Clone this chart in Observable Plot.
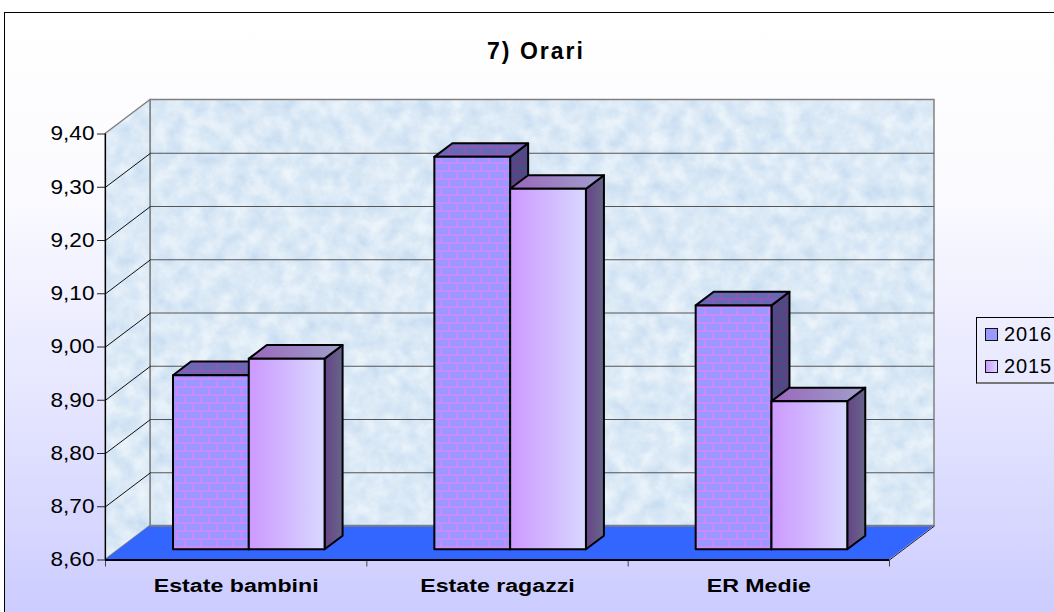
<!DOCTYPE html>
<html lang="it">
<head>
<meta charset="utf-8">
<script src="https://cdn.jsdelivr.net/npm/d3@7"></script>
<script src="https://cdn.jsdelivr.net/npm/@observablehq/plot@0.6"></script>
<style>
html,body{margin:0;padding:0;background:#fff;overflow:hidden}
#page{position:relative;width:1054px;height:612px;overflow:hidden;font-family:"Liberation Sans",Arial,sans-serif;color:#000}
#frame{position:absolute;left:4px;top:12px;width:1100px;height:700px;border:1px solid #000;box-sizing:border-box;
 background:linear-gradient(180deg,#ffffff 0%,#fbfbff 25%,#e6e6ff 55%,#ccccff 86%,#ccccff 100%)}
#title{position:absolute;left:336px;width:400px;top:37px;text-align:center;font-weight:bold;font-size:23px;letter-spacing:2px;line-height:28px}
#chart{position:absolute;left:0;top:0}
#chart svg{display:block;background:transparent}
#legend{position:absolute;left:976px;top:317px;width:120px;height:67px;border:1px solid #000;border-bottom:2px solid #777;box-sizing:border-box;font-size:20px;letter-spacing:.9px}
.item{position:absolute;left:8px;display:flex;align-items:center;line-height:22px}
.sw{display:inline-block;width:11px;height:11px;border:1.5px solid #111;margin-right:6px;box-sizing:content-box}
</style>
</head>
<body>
<div id="page">
  <div id="frame"></div>
  <div id="chart"></div>
  <div id="title">7) Orari</div>
  <div id="legend">
    <div class="item" style="top:5px"><span class="sw" style="background:#9999ff"></span><span>2016</span></div>
    <div class="item" style="top:37px"><span class="sw" style="background:linear-gradient(90deg,#cc99ff,#d9d9ff)"></span><span>2015</span></div>
  </div>
</div>
<script>
// ---- data ----
const categories = ["Estate bambini", "Estate ragazzi", "ER Medie"];
const values2016 = [8.927, 9.337, 9.058];
const values2015 = [8.958, 9.277, 8.878];
const yTicks = [8.6, 8.7, 8.8, 8.9, 9.0, 9.1, 9.2, 9.3, 9.4];

// ---- pseudo-3D projection, in data units ----
const yMin = 8.6, yMax = 9.4, nCat = categories.length;
const depthX = 45 / 261.33, depthY = 34 / 532.5;   // shift of the back plane
const d0 = 0.3, d1 = 0.7;                          // bar depth within the box
const gap = 0.2086, barW = 0.29;

const quad = (a, b, c, d) => [
  {x1: a[0], y1: a[1], x2: d[0], y2: d[1]},
  {x1: b[0], y1: b[1], x2: c[0], y2: c[1]}
];
const areaOf = (pts, opts) => Plot.area(pts, {x1: "x1", y1: "y1", x2: "x2", y2: "y2", ...opts});

function barMarks(values, slot, front, top, side) {
  const lay = values.map((v, i) => {
    const x0 = i + gap + slot * barW + d0 * depthX;
    return {x0, x1: x0 + barW, v};
  });
  const ox = (d1 - d0) * depthX, b = yMin + d0 * depthY, oy = (d1 - d0) * depthY;
  const line = {stroke: "#000", strokeWidth: 2, strokeLinejoin: "round"};
  const marks = [];
  for (const p of lay) {
    const t = p.v + d0 * depthY;
    marks.push(areaOf(quad([p.x1, b], [p.x1 + ox, b + oy], [p.x1 + ox, t + oy], [p.x1, t]), {fill: side, ...line}));
    marks.push(areaOf(quad([p.x0, t], [p.x0 + ox, t + oy], [p.x1 + ox, t + oy], [p.x1, t]), {fill: top, ...line}));
    marks.push(Plot.rect([p], {x1: "x0", x2: "x1", y1: () => b, y2: () => t, fill: front, ...line}));
  }
  return marks;
}

const defs = () => {
  const d = d3.create("svg:defs");
  d.html(`
    <filter id="marbleF" x="0" y="0" width="100%" height="100%" color-interpolation-filters="sRGB">
      <feTurbulence type="fractalNoise" baseFrequency="0.06" numOctaves="5" seed="7"/>
      <feColorMatrix type="matrix" values="0.2 0 0 0 0.76  0.13 0 0 0 0.85  0.05 0 0 0 0.94  0 0 0 0 1"/>
    </filter>
    <pattern id="marble" patternUnits="userSpaceOnUse" width="1054" height="612">
      <rect width="1054" height="612" filter="url(#marbleF)"/>
    </pattern>
    <pattern id="brick" patternUnits="userSpaceOnUse" width="16" height="16" x="1" y="3">
      <rect width="16" height="16" fill="#cc88ff"/>
      <rect x="1" y="1" width="14" height="6" fill="#9999ff"/>
      <rect x="-7" y="9" width="14" height="6" fill="#9999ff"/>
      <rect x="9" y="9" width="14" height="6" fill="#9999ff"/>
    </pattern>
    <pattern id="brickTop" patternUnits="userSpaceOnUse" width="16" height="16" x="1" y="3">
      <rect width="16" height="16" fill="#8a5cb8"/>
      <rect x="1" y="1" width="14" height="6" fill="#6868b4"/>
      <rect x="-7" y="9" width="14" height="6" fill="#6868b4"/>
      <rect x="9" y="9" width="14" height="6" fill="#6868b4"/>
    </pattern>
    <pattern id="brickSide" patternUnits="userSpaceOnUse" width="16" height="16" x="1" y="3">
      <rect width="16" height="16" fill="#60408a"/>
      <rect x="1" y="1" width="14" height="6" fill="#4c4c80"/>
      <rect x="-7" y="9" width="14" height="6" fill="#4c4c80"/>
      <rect x="9" y="9" width="14" height="6" fill="#4c4c80"/>
    </pattern>
    <linearGradient id="gFront"><stop offset="0" stop-color="#cc99ff"/><stop offset="1" stop-color="#d8d8ff"/></linearGradient>
    <linearGradient id="gTop"><stop offset="0" stop-color="#9966bb"/><stop offset="1" stop-color="#a0a0cc"/></linearGradient>
    <linearGradient id="gSide"><stop offset="0" stop-color="#664488"/><stop offset="1" stop-color="#666688"/></linearGradient>
  `);
  return d.node();
};

const backY = yTicks.map(v => ({v}));
const comma = v => d3.format(".2f")(v).replace(".", ",");

const plot = Plot.plot({
  width: 1054, height: 612,
  marginLeft: 105, marginRight: 165, marginTop: 133.5, marginBottom: 52.5,
  x: {type: "linear", domain: [0, nCat], axis: null},
  y: {domain: [yMin, yMax], axis: null},
  style: {background: "transparent", fontFamily: "'Liberation Sans',Arial,sans-serif", color: "#000"},
  marks: [
    defs,
    // back wall
    Plot.rect([0], {x1: () => depthX, x2: () => nCat + depthX, y1: () => yMin + depthY, y2: () => yMax + depthY,
      fill: "url(#marble)", stroke: "#808080", strokeWidth: 1.5}),
    // left wall
    areaOf(quad([0, yMin], [depthX, yMin + depthY], [depthX, yMax + depthY], [0, yMax]),
      {fill: "url(#marble)", stroke: "#808080", strokeWidth: 1.5}),
    // floor
    areaOf(quad([0, yMin], [depthX, yMin + depthY], [nCat + depthX, yMin + depthY], [nCat, yMin]),
      {fill: "#3366ff"}),
    Plot.ruleY(backY.slice(0, 1), {y: d => d.v + depthY, x1: () => depthX, x2: () => nCat + depthX, stroke: "#808080", strokeWidth: 1.5}),
    // gridlines
    Plot.ruleY(backY.slice(1, -1), {y: d => d.v + depthY, x1: () => depthX, x2: () => nCat + depthX, stroke: "#555", strokeWidth: 1.2}),
    Plot.link(backY.slice(1, -1), {x1: () => 0, y1: d => d.v, x2: () => depthX, y2: d => d.v + depthY, stroke: "#111", strokeWidth: 1}),
    // right floor edge
    Plot.link([0], {x1: () => nCat, y1: () => yMin, x2: () => nCat + depthX, y2: () => yMin + depthY, stroke: "#222", strokeWidth: 1}),
    // bars
    ...barMarks(values2016, 0, "url(#brick)", "url(#brickTop)", "url(#brickSide)"),
    ...barMarks(values2015, 1, "url(#gFront)", "url(#gTop)", "url(#gSide)"),
    // axes
    Plot.axisY({ticks: yTicks, tickFormat: comma, tickSize: 8, tickPadding: 3, fontSize: 20, stroke: "#222", textStroke: "none"}),
    Plot.axisX({ticks: d3.range(nCat + 1), tickFormat: () => "", tickSize: 7, stroke: "#444", anchor: "bottom"}),
    Plot.ruleX([0], {y1: yMin, y2: yMax, stroke: "#000", strokeWidth: 1.2}),
    Plot.ruleY([yMin], {stroke: "#000", strokeWidth: 2}),
    Plot.text(categories, {x: (d, i) => i + 0.5, y: () => yMin, dy: 26, text: d => d, fontWeight: "bold", fontSize: 19, fill: "#000",
      textAnchor: "middle", style: {letterSpacing: "1px"}})
  ]
});
document.getElementById("chart").appendChild(plot);

// the reference's lettering is horizontally stretched
plot.querySelectorAll("text").forEach(el => {
  const k = categories.includes(el.textContent) ? 1.22 : 1.13;
  const t = el.getAttribute("transform");
  const x = el.getAttribute("x"), y = el.getAttribute("y");
  if (t) el.setAttribute("transform", `${t} scale(${k},1)`);
  else if (x !== null) {
    el.setAttribute("transform", `translate(${x},${y}) scale(${k},1)`);
    el.removeAttribute("x"); el.removeAttribute("y");
  }
});
</script>
</body>
</html>
